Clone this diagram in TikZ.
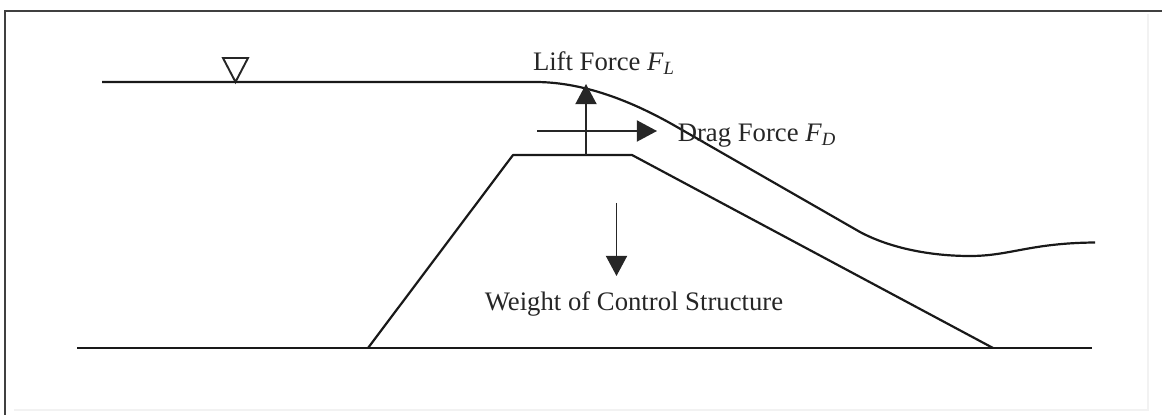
\documentclass[tikz,border=0pt]{standalone}
\usepackage{fontspec}
\setmainfont{Liberation Serif}
\usetikzlibrary{arrows.meta,positioning,calc}

\begin{document}
\begin{tikzpicture}[x=0.02cm,y=-0.02cm,
    forcearrow/.style={line width=1.1pt,black!85,-{Triangle[length=11.5pt,width=12pt]}},
    forcelabel/.style={font=\fontsize{15.2}{18}\selectfont,text=black!85,inner sep=0pt},
    waterline/.style={line width=1.25pt,black!90}]
  \useasboundingbox (0,0) rectangle (1162,415);
  % 外枠（上・左は濃く、右・下は薄い）
  \draw[line width=1pt,black!75] (5,415) -- (5,11) -- (1162,11);
  \draw[line width=0.6pt,black!5] (14,410) -- (1148,410) -- (1148,14);
  % 水面の印
  \draw[line width=1.1pt,black!85] (223,58) -- (248,58) -- (235.5,82) -- cycle;
  % 水面形
  \draw[waterline] (102,82) -- (535,82) .. controls (578,82) and (625,97) .. (677,127)
    -- (860,232) .. controls (890,248) and (930,256) .. (970,256)
    .. controls (1010,256) and (1030,243) .. (1095,242.5);
  % 構造物と地盤
  \draw[waterline,line join=round] (368,348) -- (513,155) -- (632,155) -- (993,348);
  \draw[waterline] (77,348) -- (1092,348);
  % 力の矢印
  \draw[forcearrow] (586,155) -- (586,84);
  \draw[forcearrow] (537,131) -- (657,131);
  \draw[forcearrow] (616.5,203) -- (616.5,276);
  % ラベル
  \node[forcelabel] (liftlabel) at (604,63) {Lift Force \textit{F}\textsubscript{\textit{L}}};
  \node[forcelabel] (draglabel) at (757,136) {Drag Force \textit{F}\textsubscript{\textit{D}}};
  \node[forcelabel] (weightlabel) at (634,303.5) {Weight of Control Structure};
\end{tikzpicture}
\end{document}
